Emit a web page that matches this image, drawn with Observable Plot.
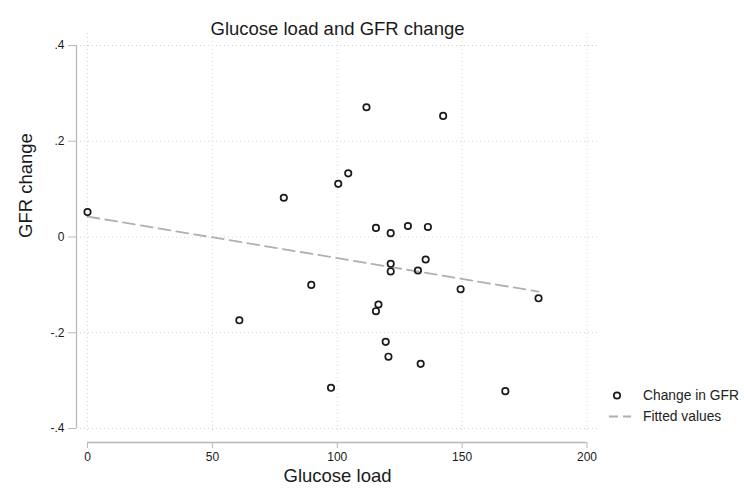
<!DOCTYPE html>
<html>
<head>
<meta charset="utf-8">
<script src="https://cdn.jsdelivr.net/npm/d3@7"></script>
<script src="https://cdn.jsdelivr.net/npm/@observablehq/plot@0.6"></script>
<style>
  html, body { margin: 0; padding: 0; background: #fff; }
  #wrap { position: relative; width: 744px; height: 493px; overflow: hidden; font-family: "Liberation Sans", Arial, sans-serif; }
  #legend { position: absolute; left: 603px; top: 385px; font-size: 13.8px; color: #222; line-height: 21px; }
  #legend .row { display: flex; align-items: center; white-space: nowrap; }
  #legend svg { width: 34px; height: 21px; flex: none; margin-right: 6px; }
</style>
</head>
<body>
<div id="wrap"><div id="legend"></div></div>
<script>
// Data
const glucoseLoad = [0, 78.6, 100.4, 104.4, 111.7, 142.4, 115.5, 121.4, 128.3, 136.3,
  121.4, 121.4, 135.4, 132.3, 89.6, 60.8, 97.5, 149.4, 180.6, 116.5,
  115.5, 119.4, 120.5, 133.4, 167.3];
const gfrChange = [0.052, 0.082, 0.111, 0.133, 0.271, 0.253, 0.019, 0.008, 0.023, 0.021,
  -0.056, -0.072, -0.047, -0.070, -0.100, -0.174, -0.315, -0.109, -0.128, -0.141,
  -0.155, -0.219, -0.250, -0.265, -0.322];
const xTicks = [0, 50, 100, 150, 200];
const yTicks = [0.4, 0.2, 0, -0.2, -0.4];
const yTickLabels = [".4", ".2", "0", "-.2", "-.4"];
const titleText = "Glucose load and GFR change";
const xLabel = "Glucose load";
const yLabel = "GFR change";
const legendLabels = ["Change in GFR", "Fitted values"];

const data = glucoseLoad.map((g, i) => ({x: g, y: gfrChange[i]}));
const axisColor = "#b8b8b8";
const gridColor = "#d4d4d4";
const textColor = "#1a1a1a";

const chart = Plot.plot({
  width: 744,
  height: 493,
  marginLeft: 76,
  marginRight: 146,
  marginTop: 33,
  marginBottom: 51,
  style: {fontFamily: "Liberation Sans, Arial, sans-serif", background: "#fff"},
  x: {domain: [0, 200], insetLeft: 11, insetRight: 11.5},
  y: {domain: [-0.4, 0.4], insetTop: 12, insetBottom: 14},
  marks: [
    Plot.gridX(xTicks, {stroke: gridColor, strokeOpacity: 1, strokeDasharray: "1,3", insetBottom: 10}),
    Plot.gridY(yTicks, {stroke: gridColor, strokeOpacity: 1, strokeDasharray: "1,3", insetLeft: 4}),
    Plot.ruleY([-0.4], {x1: 0, x2: 200, dy: 14, stroke: axisColor, strokeWidth: 1.3}),
    Plot.ruleX([0], {y1: -0.4, y2: 0.4, dx: -11, stroke: axisColor, strokeWidth: 1.3}),
    Plot.axisX({ticks: xTicks, tickSize: 6, tickPadding: 4, stroke: axisColor, fill: textColor, fontSize: 12, label: null}),
    Plot.axisY({ticks: yTicks, tickSize: 8, tickPadding: 4, stroke: axisColor, fill: textColor, fontSize: 12, label: null,
      tickFormat: d => yTickLabels[yTicks.indexOf(d)]}),
    Plot.linearRegressionY(data, {x: "x", y: "y", ci: 0, stroke: "#b0b0b0", strokeWidth: 1.8, strokeDasharray: "12,6"}),
    Plot.dot(data, {x: "x", y: "y", r: 3.2, stroke: "#1a1a1a", strokeWidth: 1.7, fill: "none"}),
    Plot.text([titleText], {frameAnchor: "top", dy: -12, fontSize: 18.5, fill: textColor}),
    Plot.text([xLabel], {frameAnchor: "bottom", dy: 39, fontSize: 18.5, fill: textColor}),
    Plot.text([yLabel], {frameAnchor: "left", dx: -50.5, rotate: -90, fontSize: 18.5, fill: textColor})
  ]
});
document.getElementById("wrap").prepend(chart);

const legend = document.getElementById("legend");
legend.innerHTML =
  `<div class="row"><svg viewBox="0 0 34 21"><circle cx="14" cy="10.5" r="3.2" fill="none" stroke="#1a1a1a" stroke-width="1.7"/></svg><span>${legendLabels[0]}</span></div>` +
  `<div class="row"><svg viewBox="0 0 34 21"><line x1="6" x2="28" y1="10.5" y2="10.5" stroke="#b0b0b0" stroke-width="1.8" stroke-dasharray="9,5"/></svg><span>${legendLabels[1]}</span></div>`;
</script>
</body>
</html>
